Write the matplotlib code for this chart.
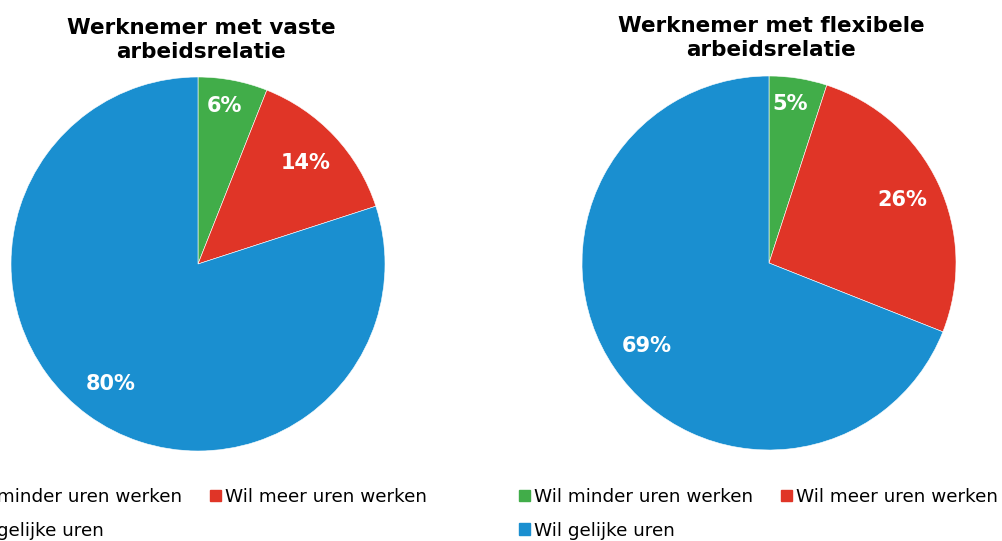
import matplotlib.pyplot as plt
from matplotlib.patches import Patch
import numpy as np

plt.rcParams["font.family"] = ["DejaVu Sans"]

categories = ["Wil minder uren werken", "Wil meer uren werken", "Wil gelijke uren"]
vast = [6, 14, 80]
flex = [5, 26, 69]
titles = ["Werknemer met vaste\narbeidsrelatie", "Werknemer met flexibele\narbeidsrelatie"]
colors = ["#41ad49", "#e03527", "#1a8fd0"]

W, H = 1003, 541
fig = plt.figure(figsize=(W / 100, H / 100), dpi=100)

# pie centres / radius in pixels
pies = [(198, 264, 187, vast, titles[0], 201, 40),
        (769, 263, 187, flex, titles[1], 771, 38)]

for cx, cy, r, vals, title, tx, ty in pies:
    ax = fig.add_axes([(cx - r) / W, (H - cy - r) / H, 2 * r / W, 2 * r / H])
    wedges, texts, autotexts = ax.pie(
        vals, colors=colors, startangle=90, counterclock=False,
        autopct="%d%%", pctdistance=0.79,
        wedgeprops=dict(edgecolor="white", linewidth=0.4),
        textprops=dict(color="white", fontsize=15, fontweight="bold"))
    # small slice label sits closer to the rim
    x, y = autotexts[0].get_position()
    autotexts[0].set_position((x * 0.86 / 0.79 - 0.02, y * 0.86 / 0.79))
    ax.set_xlim(-1, 1)
    ax.set_ylim(-1, 1)
    ax.set_aspect("equal")
    ax.axis("off")

    fig.text(tx / W, 1 - ty / H, title, ha="center", va="center",
             fontsize=15.5, fontweight="bold", linespacing=1.3)

    handles = [Patch(color=colors[0], label=categories[0]),
               Patch(color=colors[2], label=categories[2]),
               Patch(color=colors[1], label=categories[1])]
    lx = cx - 769 + 519
    fig.legend(handles=handles, ncol=2, loc="upper left",
               bbox_to_anchor=(lx / W, 1 - 488 / H), frameon=False,
               fontsize=13.2, handlelength=0.62, handleheight=0.62,
               handletextpad=0.22, columnspacing=1.5, labelspacing=0.85,
               borderpad=0, borderaxespad=0)

fig.savefig("out.png", dpi=100)
